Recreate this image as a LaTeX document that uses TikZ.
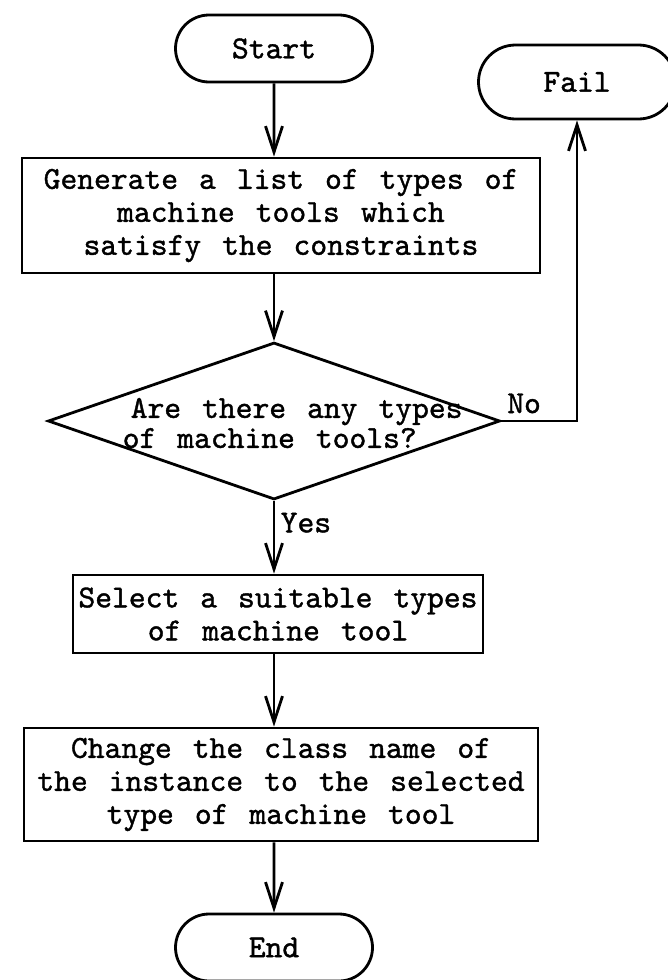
\documentclass[tikz,border=0pt]{standalone}
\usepackage{fontspec}
\setmonofont{lmmono10-regular.otf}[FakeBold=1.2, WordSpace=1.25]
\usetikzlibrary{shapes.geometric,shapes.misc,arrows.meta}

\begin{document}
\begin{tikzpicture}[x=1pt, y=-1pt, line width=2.8pt,
  every node/.style={font=\ttfamily\fontsize{32}{33}\selectfont},
  term/.style={rounded rectangle, draw, minimum width=197pt, minimum height=67pt, inner sep=0pt},
  stepbox/.style={rectangle, draw, align=center, inner sep=0pt},
  flow/.style={-{Straight Barb[length=26pt, width=17pt]}}]
\useasboundingbox (0, 0) rectangle (668, 980);
\clip (0, 0) rectangle (668, 980);
\node[term] (start) at (274, 48.5) {Start};
\node[term, minimum height=74pt] (fail) at (577, 82) {Fail};
\node[stepbox, minimum width=518pt, minimum height=115pt] (list) at (281, 215.5) {Generate a list of types of\\machine tools which\\satisfy the constraints};
\node[diamond, draw, minimum width=452pt, minimum height=157pt, inner sep=0pt] (ask) at (274, 421) {};
\node[anchor=west, align=left, font=\ttfamily\fontsize{32}{30}\selectfont] (asktext) at (118, 423) {\hspace{8pt}Are there any types\\of machine tools?};
\node[stepbox, minimum width=410pt, minimum height=78pt] (pick) at (278, 614) {Select a suitable types\\of machine tool};
\node[stepbox, minimum width=514pt, minimum height=113pt] (rename) at (281, 784.5) {Change the class name of\\the instance to the selected\\type of machine tool};
\node[term] (end) at (274, 947.5) {End};
\draw[flow] (start) -- (start |- list.north);
\draw[flow] (ask.north |- list.south) -- (ask.north);
\draw[flow] (ask.south) -- node[pos=0.3, right=2pt] {Yes} (ask.south |- pick.north);
\draw[flow] (ask.south |- pick.south) -- (ask.south |- rename.north);
\draw[flow] (ask.south |- rename.south) -- (end);
\draw[flow] (ask.east) -- node[pos=0.3, above=3pt] {No} (fail.south |- ask.east) -- (fail.south);
\end{tikzpicture}
\end{document}
